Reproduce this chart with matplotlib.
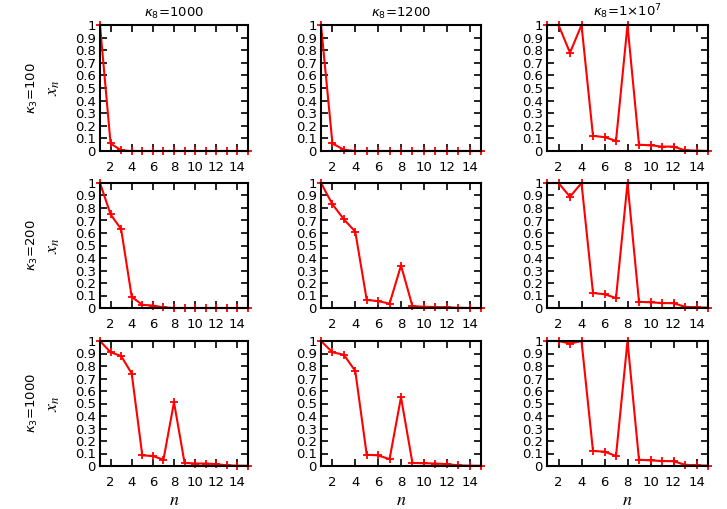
import numpy as np
import matplotlib
matplotlib.use('Agg')
import matplotlib.pyplot as plt

plt.rcParams['font.family'] = ['DejaVu Sans']
plt.rcParams['mathtext.fontset'] = 'dejavusans'

n = np.arange(1, 16)

# rows: kappa_3, columns: kappa_8
row_labels = [r'$\kappa_3$=100', r'$\kappa_3$=200', r'$\kappa_3$=1000']
col_titles = [r'$\kappa_8$=1000', r'$\kappa_8$=1200', r'$\kappa_8$=1$\times$10$^7$']

x_100_1000 = [1, 0.06, 0.005, 0, 0, 0, 0, 0, 0, 0, 0, 0, 0, 0, 0]
x_100_1200 = [1, 0.06, 0.01, 0, 0, 0, 0, 0, 0, 0, 0, 0, 0, 0, 0]
x_100_1e7 = [1, 1, 0.78, 1, 0.12, 0.11, 0.08, 1, 0.05, 0.045, 0.035, 0.035, 0.005, 0.003, 0]
x_200_1000 = [1, 0.75, 0.63, 0.09, 0.025, 0.02, 0.005, 0, 0, 0, 0, 0, 0, 0, 0]
x_200_1200 = [1, 0.83, 0.71, 0.61, 0.065, 0.055, 0.035, 0.34, 0.015, 0.01, 0.008, 0.005, 0.002, 0, 0]
x_200_1e7 = [1, 1, 0.89, 1, 0.12, 0.11, 0.08, 1, 0.05, 0.045, 0.04, 0.038, 0.01, 0.005, 0.003]
x_1000_1000 = [1, 0.91, 0.88, 0.74, 0.085, 0.08, 0.05, 0.51, 0.025, 0.02, 0.02, 0.015, 0.005, 0.003, 0.002]
x_1000_1200 = [1, 0.91, 0.89, 0.76, 0.09, 0.085, 0.055, 0.55, 0.025, 0.022, 0.02, 0.015, 0.005, 0.003, 0.002]
x_1000_1e7 = [1, 1, 0.98, 1, 0.12, 0.115, 0.08, 1, 0.05, 0.045, 0.04, 0.038, 0.01, 0.005, 0.003]

data = [[x_100_1000, x_100_1200, x_100_1e7],
        [x_200_1000, x_200_1200, x_200_1e7],
        [x_1000_1000, x_1000_1200, x_1000_1e7]]

fig = plt.figure(figsize=(7.27, 5.09), dpi=100)
W, H = 727, 509
col_x = [(100, 248), (321, 481), (547, 708)]
row_y = [(25, 151), (183, 308), (341, 466)]
fs = 9.5

for i in range(3):
    for j in range(3):
        x0, x1 = col_x[j]
        y0, y1 = row_y[i]
        ax = fig.add_axes([x0 / W, 1 - y1 / H, (x1 - x0) / W, (y1 - y0) / H])
        ax.plot(n, data[i][j], color='red', lw=1.5, marker='+', ms=6, mew=1.3, clip_on=False)
        ax.set_xlim(1, 15)
        ax.set_ylim(0, 1)
        ax.set_xticks(range(2, 15, 2))
        ax.set_yticks(np.arange(0, 1.01, 0.1))
        ax.set_yticklabels(['0'] + ['%.1f' % v for v in np.arange(0.1, 0.95, 0.1)] + ['1'])
        ax.tick_params(direction='in', top=True, right=True, length=5, width=1.2,
                       labelsize=fs, colors='black')
        ax.tick_params(axis='x', pad=7)
        ax.tick_params(axis='y', pad=3)
        for s in ax.spines.values():
            s.set_linewidth(1.5)
        if i == 0:
            ax.set_title(col_titles[j], fontsize=fs, pad=6)
        if j == 0:
            fig.text(53 / W, 1 - (y0 + y1) / 2 / H, r'$x_n$', fontsize=13,
                     math_fontfamily='stix', rotation=90, ha='center', va='center')
            fig.text(32 / W, 1 - (y0 + y1) / 2 / H, row_labels[i], rotation=90,
                     ha='center', va='center', fontsize=fs)
        if i == 2:
            fig.text((x0 + x1) / 2 / W, 1 - 500 / H, r'$n$', fontsize=13,
                     math_fontfamily='stix', ha='center', va='center')

plt.savefig('out.png', dpi=100)
